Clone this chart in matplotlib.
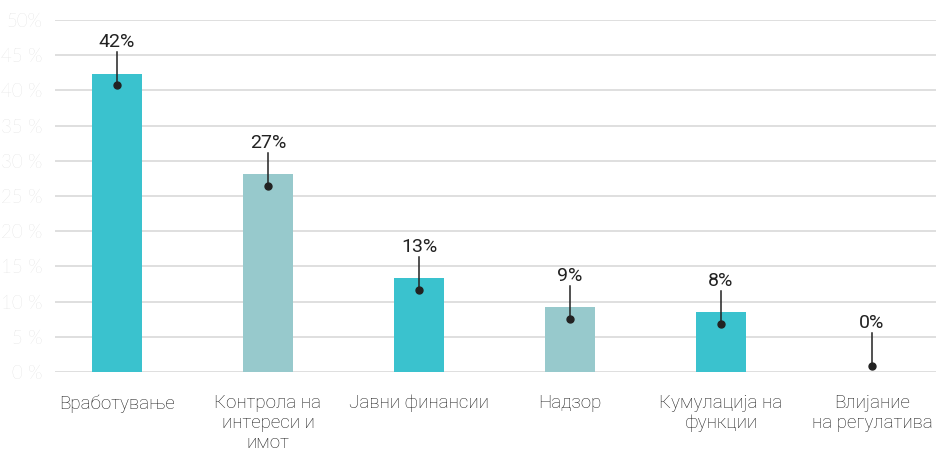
import matplotlib.pyplot as plt
import numpy as np

# データ
categories = ['Вработување', 'Контрола на\nинтереси и\nимот', 'Јавни финансии',
              'Надзор', 'Кумулација на\nфункции', 'Влијание\nна регулатива']
values = [42.4, 28.1, 13.3, 9.2, 8.5, 0.0]
labels = ['42%', '27%', '13%', '9%', '8%', '0%']
yticks = [0, 5, 10, 15, 20, 25, 30, 35, 40, 45, 50]
ytick_labels = ['0 %', '5 %', '10 %', '15 %', '20 %', '25 %', '30 %', '35 %', '40 %', '45 %', '50%']

colors = ['#3ac2ce', '#97c9cc'] * 3

fig = plt.figure(figsize=(9.37, 4.55), dpi=100)
ax = fig.add_axes([55 / 937, 83 / 455, 882 / 937, 352 / 455])

x = np.arange(len(categories))
ax.bar(x, values, width=0.33, color=colors, zorder=2)

# ラベルと引き出し線
for xi, v, lab in zip(x, values, labels):
    dot = v - 1.7 if v > 0 else 0.85
    ax.plot([xi, xi], [dot, dot + 4.7], color='#222222', lw=1.1, zorder=3)
    ax.plot(xi, dot, 'o', color='#222222', ms=5, zorder=4)
    ax.text(xi, dot + 4.9, lab, ha='center', va='bottom', fontsize=14,
            family='Roboto', color='#222222')

ax.set_ylim(0, 50)
ax.set_xlim(-0.41, 5.43)
ax.set_yticks(yticks)
ax.set_yticklabels(ytick_labels, family='Lato', weight='light', fontsize=13.5,
                   color='#cfcfcf')
ax.set_xticks(x)
ax.set_xticklabels(categories, family='Roboto', weight='light', fontsize=13.5,
                   color='#1e1e1e', linespacing=1.15, va='top')
ax.tick_params(axis='both', length=0)
ax.tick_params(axis='x', pad=16)
ax.tick_params(axis='y', pad=9)
ax.grid(axis='y', color='#d9d9d9', lw=1.2, zorder=0)
for s in ax.spines.values():
    s.set_visible(False)

fig.savefig('out.png', dpi=100)
